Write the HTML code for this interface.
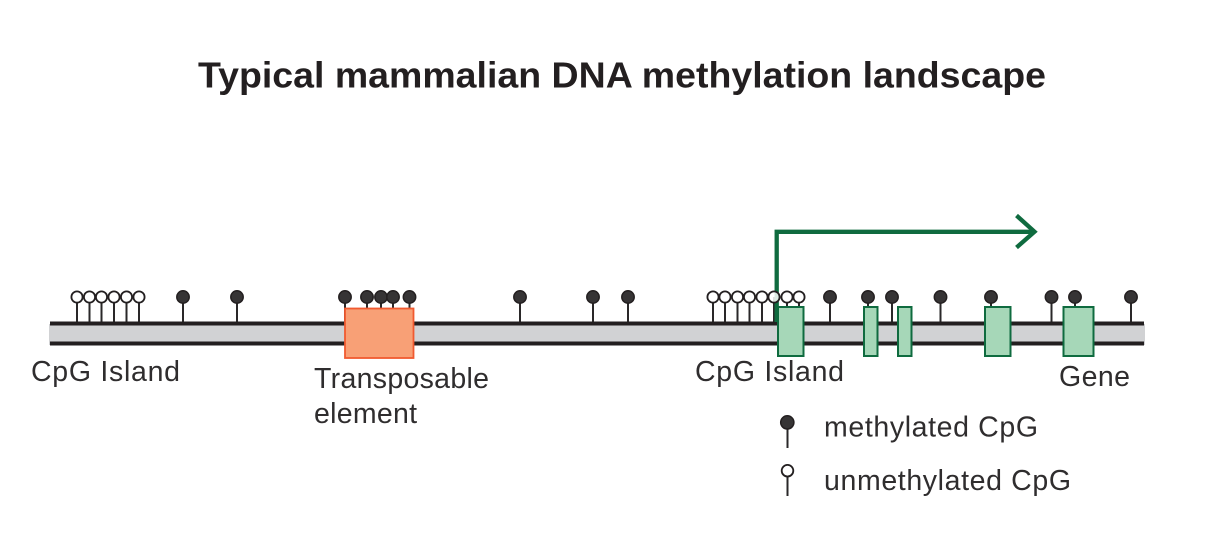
<!DOCTYPE html>
<html>
<head>
<meta charset="utf-8">
<style>
html,body{margin:0;padding:0;background:#fff;width:1208px;height:533px;overflow:hidden}
svg{display:block}
text{font-family:"Liberation Sans",sans-serif;fill:#231f20}
.l{fill:#2f2d2e}
.s{stroke:#2a2829;stroke-width:2}
.m{fill:#363435;stroke:#231f20;stroke-width:1.5}
.u{fill:#fff;stroke:#231f20;stroke-width:1.8}
.g{fill:#a6d7b8;stroke:#0f6b3f;stroke-width:2}
</style>
</head>
<body>
<svg width="1208" height="533" viewBox="0 0 1208 533" xmlns="http://www.w3.org/2000/svg">
<text x="622" y="87.500" font-size="36" font-weight="700" text-anchor="middle" textLength="848" lengthAdjust="spacingAndGlyphs">Typical mammalian DNA methylation landscape</text>

<!-- stems -->
<g class="s">
<path d="M77 297V322M89.500 297V322M101.500 297V322M114 297V322M126.500 297V322M139 297V322M183 297V322M237 297V322M345 297V322M367 297V322M381 297V322M393 297V322M409.500 297V322M520 297V322M593 297V322M628 297V322M713 297V322M725 297V322M737.500 297V322M749.500 297V322M762 297V322M774 297V322M830 297V322M868 297V322M892 297V322M940.500 297V322M991 297V322M1051.500 297V322M1075 297V322M1131 297V322M787 297V310M799 297V310"/>
</g>

<!-- DNA bar -->
<rect x="49" y="324" width="1096" height="21" fill="#d1d2d4"/>
<rect x="50" y="321.500" width="1094" height="4" fill="#231f20"/>
<rect x="50" y="341.500" width="1094" height="4" fill="#231f20"/>

<!-- unmethylated -->
<g class="u">
<circle cx="77" cy="297" r="5.600"/><circle cx="89.500" cy="297" r="5.600"/><circle cx="101.500" cy="297" r="5.600"/><circle cx="114" cy="297" r="5.600"/><circle cx="126.500" cy="297" r="5.600"/><circle cx="139" cy="297" r="5.600"/>
<circle cx="713" cy="297" r="5.600"/><circle cx="725" cy="297" r="5.600"/><circle cx="737.500" cy="297" r="5.600"/><circle cx="749.500" cy="297" r="5.600"/><circle cx="762" cy="297" r="5.600"/>
</g>

<!-- promoter arrow -->
<path d="M776.700 322V231.800H1034" fill="none" stroke="#0f6b3f" stroke-width="4.300"/>
<path d="M1016.500 215.500L1034.500 231.700L1016.500 247.500" fill="none" stroke="#0f6b3f" stroke-width="4.300"/>

<g class="u">
<circle cx="774" cy="297" r="5.600" fill-opacity="0.85"/><circle cx="787" cy="297" r="5.600"/><circle cx="799" cy="297" r="5.600"/>
</g>

<!-- methylated -->
<g class="m">
<circle cx="183" cy="297" r="6.200"/><circle cx="237" cy="297" r="6.200"/><circle cx="345" cy="297" r="6.200"/><circle cx="367" cy="297" r="6.200"/><circle cx="381" cy="297" r="6.200"/><circle cx="393" cy="297" r="6.200"/><circle cx="409.500" cy="297" r="6.200"/>
<circle cx="520" cy="297" r="6.200"/><circle cx="593" cy="297" r="6.200"/><circle cx="628" cy="297" r="6.200"/><circle cx="830" cy="297" r="6.200"/><circle cx="868" cy="297" r="6.200"/><circle cx="892" cy="297" r="6.200"/><circle cx="940.500" cy="297" r="6.200"/><circle cx="991" cy="297" r="6.200"/><circle cx="1051.500" cy="297" r="6.200"/><circle cx="1075" cy="297" r="6.200"/><circle cx="1131" cy="297" r="6.200"/>
</g>

<!-- transposable element -->
<rect x="345" y="308.500" width="68.500" height="49.500" fill="#f8a076" stroke="#f15a30" stroke-width="1.800"/>

<!-- exons -->
<rect class="g" x="778" y="307" width="25.500" height="49"/>
<rect class="g" x="864" y="307" width="13.500" height="49"/>
<rect class="g" x="898" y="307" width="13.500" height="49"/>
<rect class="g" x="985" y="307" width="25.500" height="49"/>
<rect class="g" x="1063.500" y="307" width="30" height="49"/>

<!-- labels -->
<text class="l" x="31" y="381" font-size="28.500" textLength="149" lengthAdjust="spacing">CpG Island</text>
<text class="l" x="314" y="388" font-size="28.500" textLength="175" lengthAdjust="spacing">Transposable</text>
<text class="l" x="314" y="423" font-size="28.500" textLength="103" lengthAdjust="spacing">element</text>
<text class="l" x="695" y="381" font-size="28.500" textLength="149" lengthAdjust="spacing">CpG Island</text>
<text class="l" x="1059" y="386" font-size="28.500" textLength="71" lengthAdjust="spacing">Gene</text>

<!-- legend -->
<path d="M787.500 423V448" stroke="#2a2829" stroke-width="2"/>
<circle class="m" cx="787.300" cy="422.400" r="6.600"/>
<path d="M787.500 471V496" stroke="#2a2829" stroke-width="2"/>
<circle class="u" cx="787.500" cy="470.700" r="5.800"/>
<text class="l" x="824" y="436.500" font-size="28.500" textLength="214" lengthAdjust="spacing">methylated CpG</text>
<text class="l" x="824" y="490" font-size="28.500" textLength="247" lengthAdjust="spacing">unmethylated CpG</text>
</svg>
</body>
</html>
